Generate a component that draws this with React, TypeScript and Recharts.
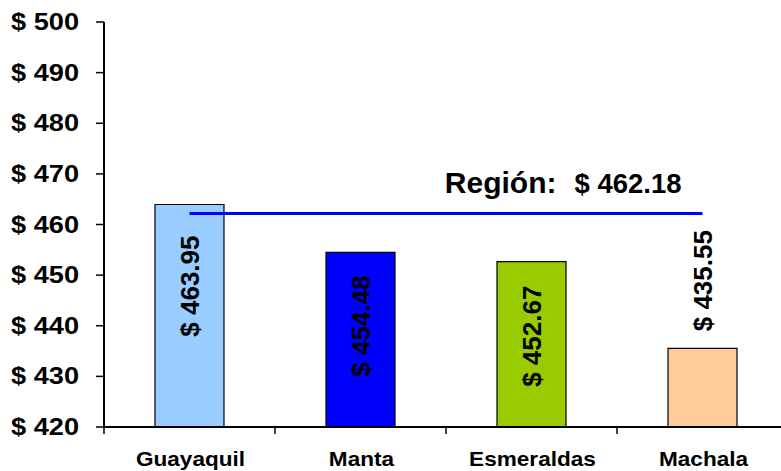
import React from 'react';
import { BarChart, Bar, XAxis, YAxis, Cell, LabelList, ReferenceLine } from 'recharts';

const categories = ['Guayaquil', 'Manta', 'Esmeraldas', 'Machala'];
const values = [463.95, 454.48, 452.67, 435.55];
const barColors = ['#99CCFF', '#0000FF', '#99CC00', '#FFCC99'];
const regionLabel = 'Región:';
const regionAverage = 462.18;
const yTicks = [420, 430, 440, 450, 460, 470, 480, 490, 500];

const labelInsets = [31, 23, 24, -17];

const data = categories.map((name, i) => ({ name, value: values[i] }));

const FONT = '"Liberation Sans", Arial, sans-serif';

const YTick = (props: any) => {
  const { x, y, payload } = props;
  return (
    <text
      transform={`translate(${x - 15}, ${y + 8}) scale(1.18, 1)`}
      textAnchor="end"
      fontFamily={FONT}
      fontWeight="bold"
      fontSize={23}
      fill="#000"
    >
      {`$ ${payload.value}`}
    </text>
  );
};

const XTick = (props: any) => {
  const { x, y, payload, width, visibleTicksCount } = props;
  const band = width && visibleTicksCount ? width / visibleTicksCount : 171;
  const bx = x - band / 2;
  return (
    <g>
      <line x1={bx} y1={y} x2={bx} y2={y + 7} stroke="#000" strokeWidth={1.5} />
      <text
        transform={`translate(${x + 1}, ${y + 39}) scale(1.13, 1)`}
        textAnchor="middle"
        fontFamily={FONT}
        fontWeight="bold"
        fontSize={20}
        fill="#000"
      >
        {payload.value}
      </text>
    </g>
  );
};

const BarLabel = (props: any) => {
  const { x, y, width, value, index } = props;
  const fs = 26;
  const cx = x + width / 2 + fs * 0.36;
  const inset = labelInsets[index] ?? 24;
  const text = `$ ${Number(value).toFixed(2)}`;
  return (
    <text
      transform={`translate(${cx}, ${y + inset}) rotate(-90)`}
      textAnchor={inset >= 0 ? 'end' : 'start'}
      fontFamily={FONT}
      fontWeight="bold"
      fontSize={fs}
      fill="#000"
    >
      {text}
    </text>
  );
};

const RegionLabel = (props: any) => {
  const vb = props.viewBox || {};
  const right = (vb.x ?? 0) + (vb.width ?? 0);
  const ly = vb.y ?? 0;
  return (
    <g>
      <text x={right - 146} y={ly - 20} textAnchor="end" fontFamily={FONT} fontWeight="bold" fontSize={30} fill="#000">
        {regionLabel}
      </text>
      <text x={right - 21} y={ly - 20} textAnchor="end" fontFamily={FONT} fontWeight="bold" fontSize={27.5} fill="#000">
        {`$ ${regionAverage.toFixed(2)}`}
      </text>
    </g>
  );
};

export default function App() {
  return (
    <div style={{ position: 'absolute', left: 0, top: 0, width: 781, height: 471, overflow: 'hidden', background: '#fff' }}>
      <BarChart
        width={800}
        height={471}
        data={data}
        margin={{ top: 22, right: 12, bottom: 4, left: 8 }}
        barSize={69}
      >
        <XAxis
          dataKey="name"
          height={40}
          axisLine={{ stroke: '#000', strokeWidth: 2 }}
          tickLine={false}
          tickSize={0}
          tickMargin={0}
          tick={<XTick />}
          interval={0}
        />
        <YAxis
          width={96}
          domain={[420, 500]}
          ticks={yTicks}
          allowDataOverflow
          axisLine={{ stroke: '#000', strokeWidth: 2 }}
          tickLine={{ stroke: '#000', strokeWidth: 1.5 }}
          tickSize={8}
          tick={<YTick />}
          interval={0}
        />
        <Bar dataKey="value" stroke="#000" strokeWidth={1.2} isAnimationActive={false}>
          {data.map((d, i) => (
            <Cell key={d.name} fill={barColors[i]} />
          ))}
          <LabelList dataKey="value" content={<BarLabel />} />
        </Bar>
        <ReferenceLine
          segment={[
            { x: categories[0], y: regionAverage },
            { x: categories[categories.length - 1], y: regionAverage },
          ]}
          stroke="#0000FF"
          strokeWidth={3}
          label={<RegionLabel />}
          ifOverflow="visible"
        />
      </BarChart>
    </div>
  );
}
